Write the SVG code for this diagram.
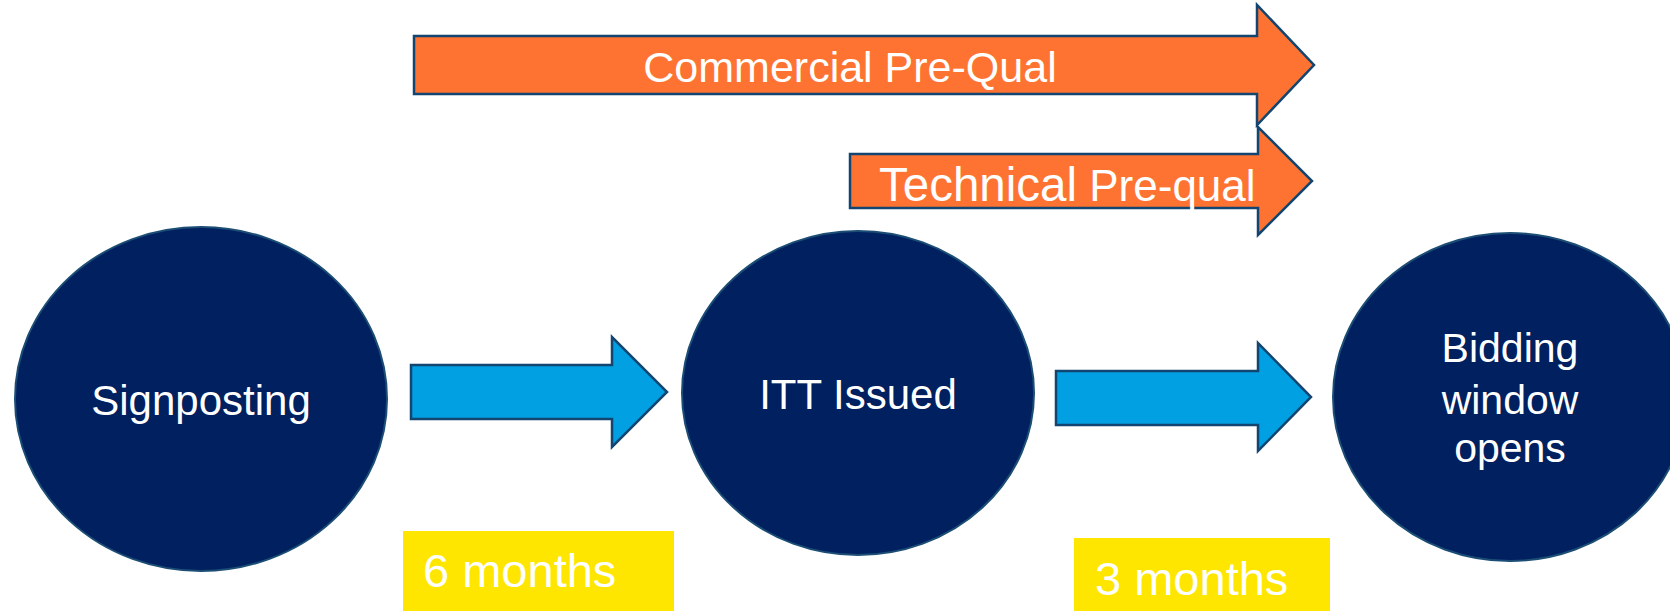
<svg xmlns="http://www.w3.org/2000/svg" width="1670" height="611" viewBox="0 0 1670 611">
<style>
.node{fill:#002060;stroke:#1B4D75;stroke-width:2}
.orange{fill:#FF7332;stroke:#124670;stroke-width:2.5}
.blue{fill:#00A0E3;stroke:#124670;stroke-width:2.5}
.box{fill:#FFE600}
text{font-family:"Liberation Sans",Arial,sans-serif;fill:#FFFFFF}
.lbl{font-size:42px;text-anchor:middle}
.bid{font-size:41px;text-anchor:middle}
.mo{font-size:47px}
</style>
<g id="connectors">
<g id="commercial-prequal">
<polygon class="orange" points="414,36 1257,36 1257,5 1314,65 1257,125 1257,94 414,94"/>
<text x="850" y="82" style="font-size:43px;text-anchor:middle">Commercial Pre-Qual</text>
</g>
<g id="technical-prequal">
<polygon class="orange" points="850,154 1258,154 1258,127 1312,181 1258,235 1258,208 850,208"/>
<text x="879" y="201"><tspan style="font-size:47.5px">Technical</tspan><tspan style="font-size:44px"> Pre-qual</tspan></text>
</g>
<polygon id="arrow-6m" class="blue" points="411,365 612,365 612,337 667,392 612,447 612,419 411,419"/>
<polygon id="arrow-3m" class="blue" points="1056,371 1258,371 1258,343 1311,397 1258,451 1258,425 1056,425"/>
</g>
<g id="node-signposting">
<ellipse class="node" cx="201" cy="399" rx="186" ry="172"/>
<text class="lbl" x="201" y="415">Signposting</text>
</g>
<g id="node-itt">
<ellipse class="node" cx="858" cy="393" rx="176" ry="162"/>
<text class="lbl" x="858" y="409">ITT Issued</text>
</g>
<g id="node-bidding">
<ellipse class="node" cx="1510" cy="397" rx="177" ry="164"/>
<text class="bid" x="1510" y="362">Bidding</text>
<text class="bid" x="1510" y="414">window</text>
<text class="bid" x="1510" y="462">opens</text>
</g>
<g id="label-6m">
<rect class="box" x="403" y="531" width="271" height="80"/>
<text class="mo" x="423" y="587">6 months</text>
</g>
<g id="label-3m">
<rect class="box" x="1074" y="538" width="256" height="73"/>
<text class="mo" x="1095" y="595">3 months</text>
</g>
</svg>
